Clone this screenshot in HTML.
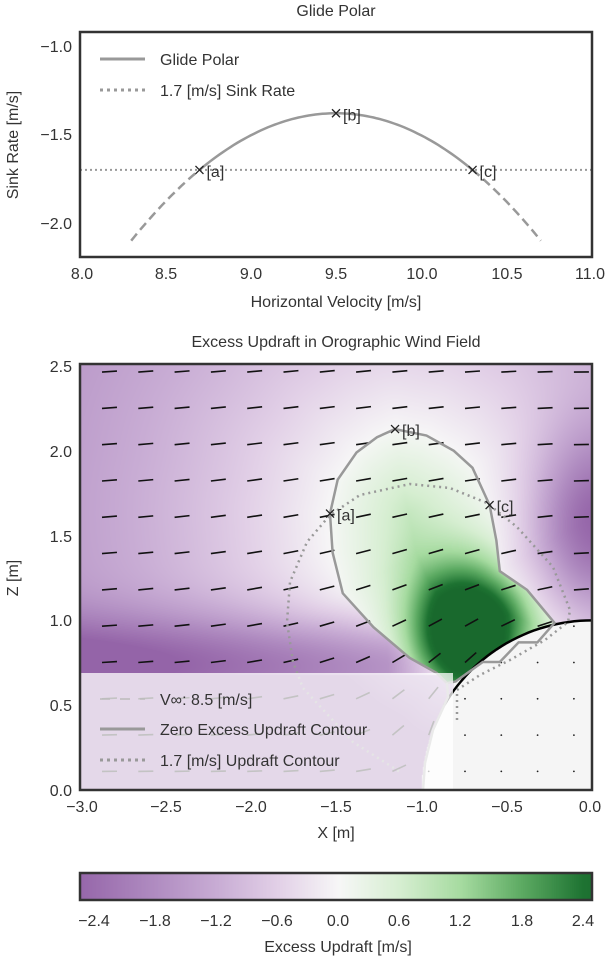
<!DOCTYPE html>
<html><head><meta charset="utf-8"><style>
html,body{margin:0;padding:0;background:#fff;}
#wrap{position:relative;width:614px;height:960px;overflow:hidden;font-family:"Liberation Sans",sans-serif;}
canvas{position:absolute;}
svg{position:absolute;left:0;top:0;}
text{font-family:"Liberation Sans",sans-serif;fill:#333;font-size:16px;}
</style></head><body><div id="wrap">
<canvas id="field" width="512" height="426" style="left:80px;top:364px;width:512px;height:426px"></canvas>
<canvas id="cb" width="512" height="27" style="left:80px;top:873px;width:512px;height:27px"></canvas>
<svg id="s" width="614" height="960" xmlns="http://www.w3.org/2000/svg">
<text x="336" y="16" text-anchor="middle">Glide Polar</text>
<g id="topg"></g>
<rect x="80" y="32" width="512" height="225" fill="none" stroke="#333" stroke-width="2.5"/>
<g text-anchor="middle">
<text x="82" y="279">8.0</text><text x="166" y="279">8.5</text><text x="251" y="279">9.0</text><text x="336" y="279">9.5</text><text x="422" y="279">10.0</text><text x="507" y="279">10.5</text><text x="590" y="279">11.0</text>
<text x="336" y="307">Horizontal Velocity [m/s]</text>
</g>
<g text-anchor="end">
<text x="72" y="52">−1.0</text><text x="72" y="140">−1.5</text><text x="72" y="229">−2.0</text>
</g>
<text transform="translate(18,145) rotate(-90)" text-anchor="middle">Sink Rate [m/s]</text>
<line x1="100" y1="59" x2="145" y2="59" stroke="#999" stroke-width="3"/>
<text x="160" y="65">Glide Polar</text>
<line x1="100" y1="90" x2="145" y2="90" stroke="#999" stroke-width="3" stroke-dasharray="3,4"/>
<text x="160" y="96">1.7 [m/s] Sink Rate</text>

<text x="336" y="347" text-anchor="middle">Excess Updraft in Orographic Wind Field</text>
<g id="bot"></g>
<rect x="80" y="364" width="512" height="426" fill="none" stroke="#333" stroke-width="2.5"/>
<g text-anchor="middle">
<text x="82" y="812">−3.0</text><text x="166" y="812">−2.5</text><text x="251" y="812">−2.0</text><text x="336" y="812">−1.5</text><text x="422" y="812">−1.0</text><text x="507" y="812">−0.5</text><text x="590" y="812">0.0</text>
<text x="336" y="838">X [m]</text>
</g>
<g text-anchor="end">
<text x="72" y="372">2.5</text><text x="72" y="457">2.0</text><text x="72" y="542">1.5</text><text x="72" y="626">1.0</text><text x="72" y="711">0.5</text><text x="72" y="796">0.0</text>
</g>
<text transform="translate(18,578) rotate(-90)" text-anchor="middle">Z [m]</text>

<rect x="80" y="873" width="512" height="27" fill="none" stroke="#333" stroke-width="2.5"/>
<g text-anchor="middle">
<text x="94" y="926">−2.4</text><text x="155" y="926">−1.8</text><text x="216" y="926">−1.2</text><text x="277" y="926">−0.6</text><text x="338" y="926">0.0</text><text x="399" y="926">0.6</text><text x="460" y="926">1.2</text><text x="522" y="926">1.8</text><text x="583" y="926">2.4</text>
<text x="338" y="952">Excess Updraft [m/s]</text>
</g>
</svg>
</div>
<script>
(function(){
var NS="http://www.w3.org/2000/svg";
function el(p,t,a){var e=document.createElementNS(NS,t);for(var k in a)e.setAttribute(k,a[k]);p.appendChild(e);return e;}
var topG=document.getElementById('topg');
function tx(v){return 80+(v-8)*170.67;} function ty(s){return 46+(-1-s)*177;}
el(topG,'line',{x1:80,y1:ty(-1.7),x2:592,y2:ty(-1.7),stroke:'#999','stroke-width':2,'stroke-dasharray':'2,3'});
function seg(a,b,dash){var d='';for(var v=a;v<=b+1e-9;v+=0.02){var s=-1.38-0.5*(v-9.5)*(v-9.5);d+=(d?'L':'M')+tx(v).toFixed(1)+','+ty(s).toFixed(1);}
 var at={d:d,fill:'none',stroke:'#999','stroke-width':2.5};if(dash)at['stroke-dasharray']='9,5';el(topG,'path',at);}
seg(8.3,8.7,true);seg(8.7,10.3,false);seg(10.3,10.7,true);
[[8.7,-1.7,'[a]'],[9.5,-1.38,'[b]'],[10.3,-1.7,'[c]']].forEach(function(p){var x=tx(p[0]),y=ty(p[1]);
 el(topG,'path',{d:'M'+(x-4)+','+(y-4)+'L'+(x+4)+','+(y+4)+'M'+(x-4)+','+(y+4)+'L'+(x+4)+','+(y-4),stroke:'#222','stroke-width':1.3});
 var t=el(topG,'text',{x:x+7,y:y+7});t.textContent=p[2];});

function bx(X){return 592+X*170.67;} function by(Z){return 790-Z*169.6;}
var poly=[[-1.154,2.128],[-0.97,2.09],[-0.81,2.0],[-0.70,1.90],[-0.60,1.68],[-0.56,1.47],[-0.54,1.29],[-0.38,1.18],[-0.22,0.985],[-0.32,0.87],[-0.43,0.87],[-0.54,0.755],[-0.64,0.755],[-0.80,0.64],[-0.85,0.63],[-0.91,0.69],[-1.07,0.78],[-1.28,0.96],[-1.46,1.16],[-1.52,1.40],[-1.535,1.63],[-1.49,1.83],[-1.38,1.99],[-1.26,2.08]];
function inside(x,y){var c=false;for(var i=0,j=poly.length-1;i<poly.length;j=i++){var a=poly[i],b=poly[j];if((a[1]>y)!=(b[1]>y)&&x<(b[0]-a[0])*(y-a[1])/(b[1]-a[1])+a[0])c=!c;}return c;}
function dist(x,y){var m=1e9;for(var i=0,j=poly.length-1;i<poly.length;j=i++){var a=poly[j],b=poly[i];var dx=b[0]-a[0],dy=b[1]-a[1];var t=((x-a[0])*dx+(y-a[1])*dy)/(dx*dx+dy*dy);t=Math.max(0,Math.min(1,t));var px=a[0]+t*dx-x,py=a[1]+t*dy-y;var d=Math.sqrt(px*px+py*py);if(d<m)m=d;}return m;}
var stops=[[-2.6,[148,100,168]],[-1.8,[176,140,193]],[-1.2,[200,172,212]],[-0.6,[226,208,231]],[0,[247,247,247]],[0.6,[214,238,209]],[1.2,[166,219,160]],[1.8,[92,170,98]],[2.4,[30,115,50]],[2.7,[25,105,45]]];
function cmap(v){if(v<=stops[0][0])return stops[0][1];for(var i=1;i<stops.length;i++){if(v<=stops[i][0]){var a=stops[i-1],b=stops[i],t=(v-a[0])/(b[0]-a[0]);return[a[1][0]+t*(b[1][0]-a[1][0]),a[1][1]+t*(b[1][1]-a[1][1]),a[1][2]+t*(b[1][2]-a[1][2])];}}return stops[stops.length-1][1];}
function field(X,Z){
 var r2=X*X+Z*Z;
 if(r2<1||(X>-0.82&&Z<0.6))return null;
 var d=dist(X,Z);
 if(inside(X,Z)){
  var g=3.6*Math.exp(-((X+0.72)*(X+0.72)/0.11+(Z-0.92)*(Z-0.92)/0.16));
  return Math.min(2.7,g+1.6*d+0.05);
 }
 var v=-2.5*(1-Math.exp(-d/1.8));
 if(X<-0.8) v-=1.5*Math.exp(-Math.pow((Z-0.75)/0.28,2))*Math.min(1,(-0.8-X)/0.4);
 v-=1.9*Math.exp(-(X*X/0.12+(Z-1.55)*(Z-1.55)/0.3));
 if(Z<0.68&&X<-0.82) v=Math.min(v,-1.6-1.0*Math.min(1,d*3));
 return Math.max(-2.6,v);
}
var cv=document.getElementById('field'),ctx=cv.getContext('2d');
var img=ctx.createImageData(512,426);
for(var py=0;py<426;py++)for(var px=0;px<512;px++){
 var X=(px+80-592)/170.67,Z=(790-(py+364))/169.6;
 var v=field(X,Z),c;
 if(v===null)c=[245,245,245];else c=cmap(v);
 var k=(py*512+px)*4;img.data[k]=c[0];img.data[k+1]=c[1];img.data[k+2]=c[2];img.data[k+3]=255;}
ctx.putImageData(img,0,0);
var cb=document.getElementById('cb').getContext('2d');
for(var i=0;i<512;i++){var v=(i+80-338.5)/101.9;var c=cmap(v);cb.fillStyle='rgb('+c.map(Math.round).join(',')+')';cb.fillRect(i,0,1,27);}

var bot=document.getElementById('bot');
for(var i=0;i<14;i++)for(var j=0;j<12;j++){
 var x=102+36.3*i,y=771.4-36.3*j;var X=(x-592)/170.67,Z=(790-y)/169.6;var r2=X*X+Z*Z;
 if(r2<1){el(bot,'circle',{cx:x,cy:y,r:0.9,fill:'#222'});continue;}
 var r4=r2*r2;var u=1-(X*X-Z*Z)/r4,w=-2*X*Z/r4;var a=Math.atan2(w,u);
 el(bot,'line',{x1:x,y1:y,x2:x+15*Math.cos(a),y2:y-15*Math.sin(a),stroke:'#111','stroke-width':1.6});}
var d='';for(var t=90;t<=150;t+=2){var rr=t*Math.PI/180;d+=(d?'L':'M')+bx(Math.cos(rr)).toFixed(1)+','+by(Math.sin(rr)).toFixed(1);}
el(bot,'path',{d:d,fill:'none',stroke:'#000','stroke-width':2.5});
var pd='';poly.forEach(function(p){pd+=(pd?'L':'M')+bx(p[0]).toFixed(1)+','+by(p[1]).toFixed(1);});pd+='Z';
el(bot,'path',{d:pd,fill:'none',stroke:'#999','stroke-width':2.5});
el(bot,'path',{d:'M447,683 L448,697 L433,730 L425,763 L423,790',fill:'none',stroke:'#aaa','stroke-width':2.5});
el(bot,'path',{d:'M457,720 L457,690 L480,675 L510,660 L545,640 L568,622 L570,610 L553,567 L517,527 L487,503 L450,488 L410,484 L360,495 L330,515 L307,542 L290,582 L287,622 L293,662 L303,688 L353,742 L400,772',fill:'none',stroke:'#999','stroke-width':2.5,'stroke-dasharray':'2,4'});
[[-1.535,1.63,'[a]'],[-1.154,2.128,'[b]'],[-0.60,1.68,'[c]']].forEach(function(p){var x=bx(p[0]),y=by(p[1]);
 el(bot,'path',{d:'M'+(x-4)+','+(y-4)+'L'+(x+4)+','+(y+4)+'M'+(x-4)+','+(y+4)+'L'+(x+4)+','+(y-4),stroke:'#222','stroke-width':1.3});
 var t=el(bot,'text',{x:x+7,y:y+7});t.textContent=p[2];});
el(bot,'rect',{x:80,y:673,width:373,height:117,fill:'#fff','fill-opacity':0.75});
el(bot,'line',{x1:100,y1:699,x2:145,y2:699,stroke:'#bbb','stroke-width':1.5,'stroke-dasharray':'10,10'});
var t1=el(bot,'text',{x:160,y:705});t1.textContent='V∞: 8.5 [m/s]';
el(bot,'line',{x1:100,y1:729,x2:145,y2:729,stroke:'#999','stroke-width':3});
var t2=el(bot,'text',{x:160,y:735});t2.textContent='Zero Excess Updraft Contour';
el(bot,'line',{x1:100,y1:760,x2:145,y2:760,stroke:'#999','stroke-width':3,'stroke-dasharray':'3,4'});
var t3=el(bot,'text',{x:160,y:766});t3.textContent='1.7 [m/s] Updraft Contour';
})();
</script>
</body></html>
